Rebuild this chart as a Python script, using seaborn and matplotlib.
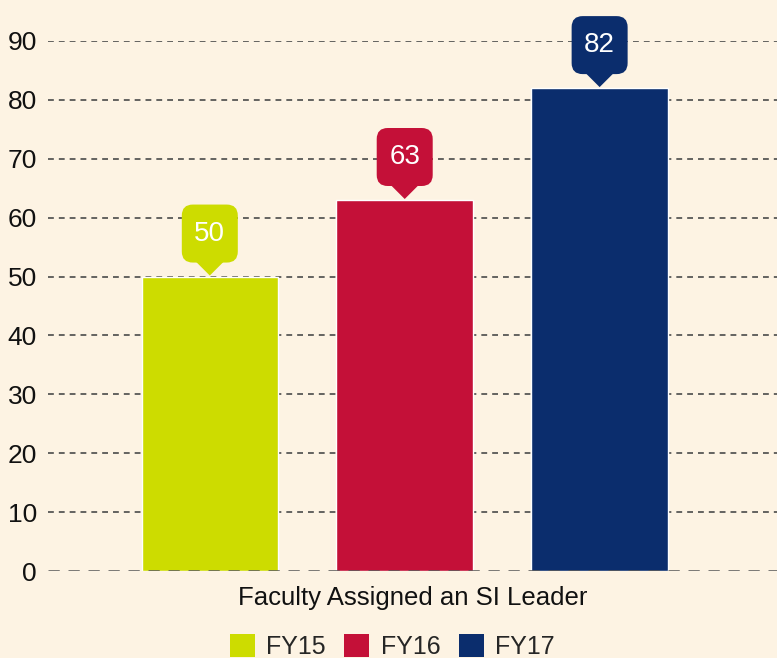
import seaborn as sns
import matplotlib.pyplot as plt
import matplotlib.transforms as mtransforms
from matplotlib.patches import FancyBboxPatch, Polygon, Patch

# data
years = ["FY15", "FY16", "FY17"]
faculty_counts = [50, 63, 82]
bar_colors = ["#cddc00", "#c41038", "#0b2d6d"]
y_ticks = [0, 10, 20, 30, 40, 50, 60, 70, 80, 90]
x_title = "Faculty Assigned an SI Leader"

bg = "#fdf3e3"

sns.set_theme(style="white")
plt.rcParams['font.family'] = ['Liberation Sans', 'DejaVu Sans']

fig = plt.figure(figsize=(7.77, 6.58), dpi=100, facecolor=bg)
ax = fig.add_axes([0.0618, 0.1322, 0.9382, 0.8055])
ax.set_facecolor(bg)

sns.barplot(x=years, y=faculty_counts, hue=years, palette=bar_colors,
            width=0.7, dodge=False, legend=False, saturation=1, ax=ax, zorder=2)

ax.set_xlim(-0.83, 2.91)
ax.set_ylim(0, 90)
ax.set_yticks(y_ticks)
ax.set_xticks([])
for s in ax.spines.values():
    s.set_visible(False)

# dashed grid
for t in y_ticks[1:]:
    ax.axhline(t, color="#4a4a4a", lw=1.2, ls=(0, (3.5, 3)), zorder=1)
ax.axhline(0, color="#555555", lw=1.8, ls=(0, (4.5, 3.5)), zorder=3)

ax.tick_params(axis="y", length=0, pad=8, labelsize=19, labelcolor="#111111")
ax.set_xlabel(x_title, fontsize=18.5, color="#111111", labelpad=11)

# callout labels above bars
for i, (val, col) in enumerate(zip(faculty_counts, bar_colors)):
    trans = fig.dpi_scale_trans + mtransforms.ScaledTranslation(i, val, ax.transData)
    tip = Polygon([(0, 0.01), (-0.15, 0.16), (0.15, 0.16)], closed=True,
                  facecolor=col, edgecolor="none", transform=trans,
                  clip_on=False, zorder=4)
    ax.add_patch(tip)
    box = FancyBboxPatch((-0.2, 0.22), 0.4, 0.42,
                         boxstyle="round,pad=0.08,rounding_size=0.11",
                         facecolor=col, edgecolor="none", transform=trans,
                         clip_on=False, zorder=4)
    ax.add_patch(box)
    ax.text(0, 0.43, str(val), transform=trans, ha="center", va="center",
            color="white", fontsize=20, zorder=5)

handles = [Patch(facecolor=c, edgecolor="none", label=y) for y, c in zip(years, bar_colors)]
fig.legend(handles=handles, loc="lower center", bbox_to_anchor=(0.505, -0.036), ncol=3,
           frameon=False, fontsize=18, handlelength=1.0, handleheight=1.0,
           handletextpad=0.45, columnspacing=0.75)

fig.savefig("out.png", dpi=100, facecolor=bg)
